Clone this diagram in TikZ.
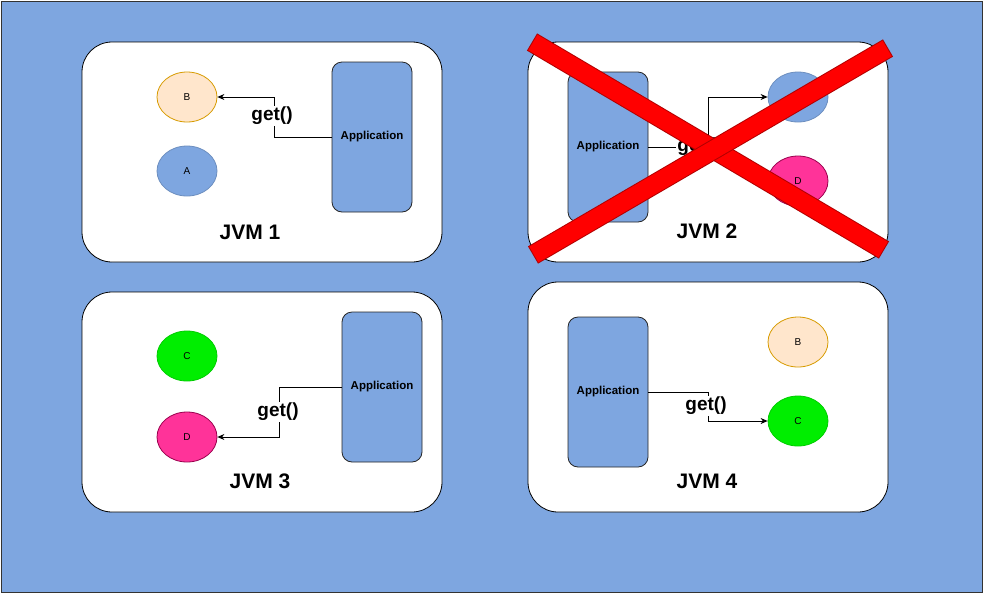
\documentclass[tikz,border=0pt]{standalone}
\usepackage{fontspec}
\setmainfont{Liberation Sans}
\usetikzlibrary{arrows.meta,shapes.geometric}
\definecolor{bgblue}{HTML}{7EA6E0}
\definecolor{blueborder}{HTML}{6C8EBF}
\definecolor{peach}{HTML}{FFE6CC}
\definecolor{peachborder}{HTML}{D79B00}
\definecolor{lgreen}{HTML}{00EE00}
\definecolor{lgreenborder}{HTML}{00CC00}
\definecolor{pink}{HTML}{FF3399}
\definecolor{pinkborder}{HTML}{99004D}
\definecolor{crossred}{HTML}{FF0000}
\definecolor{crossborder}{HTML}{B20000}
\tikzset{
  jvmbox/.style={draw=black, fill=white, rounded corners=30pt, line width=0.8pt},
  appbox/.style={draw=black!85, fill=bgblue, rounded corners=10pt, minimum width=80pt, minimum height=150pt, inner sep=0pt, line width=0.8pt, font=\fontsize{11.5}{13}\selectfont\bfseries},
  obj/.style={ellipse, minimum width=60pt, minimum height=50pt, inner sep=0pt, line width=0.8pt, font=\fontsize{10}{12}\selectfont},
  objB/.style={obj, draw=peachborder, fill=peach},
  objA/.style={obj, draw=blueborder, fill=bgblue},
  objC/.style={obj, draw=lgreenborder, fill=lgreen},
  objD/.style={obj, draw=pinkborder, fill=pink},
  getlbl/.style={fill=white, inner sep=1pt, font=\fontsize{19}{21}\selectfont\bfseries},
  jvmlbl/.style={inner sep=0pt, font=\fontsize{21}{23}\selectfont\bfseries},
  conn/.style={draw=black, line width=0.8pt},
  arr/.style={conn, -{Stealth[length=7pt,width=6pt]}},
}
\begin{document}
\begin{tikzpicture}[x=1pt,y=-1pt]
\useasboundingbox (0,0) rectangle (985,595);
\fill[bgblue] (1,1) rectangle (982,592);
\draw[black!80, line width=0.8pt] (1,1) rectangle (982,592);

% JVM 1
\draw[jvmbox] (82,42) rectangle (442,262);
\node[appbox] (app1) at (372,137) {Application};
\node[objB] (b1) at (187,97) {B};
\node[objA] (a1) at (187,171) {A};
\coordinate (k1) at (274,137);
\draw[arr] (app1.west) -- (k1) |- (b1.east);
\node[getlbl] (g1) at (272,116) {get()};
\node[jvmlbl] (j1) at (250,232) {JVM 1};

% JVM 2
\draw[jvmbox] (528,42) rectangle (888,262);
\node[appbox] (app2) at (608,147) {Application};
\node[objA] (a2) at (798,97) {A};
\node[objD] (d2) at (798,181) {D};
\coordinate (k2) at (708,147);
\draw[arr] (app2.east) -- (k2) |- (a2.west);
\node[getlbl] (g2) at (698,147) {get()};
\node[jvmlbl] (j2) at (707,231) {JVM 2};

% JVM 3
\draw[jvmbox] (82,292) rectangle (442,512);
\node[appbox] (app3) at (382,387) {Application};
\node[objC] (c3) at (187,356) {C};
\node[objD] (d3) at (187,437) {D};
\coordinate (k3) at (279,387);
\draw[arr] (app3.west) -- (k3) |- (d3.east);
\node[getlbl] (g3) at (278,412) {get()};
\node[jvmlbl] (j3) at (260,481) {JVM 3};

% JVM 4
\draw[jvmbox] (528,282) rectangle (888,512);
\node[appbox] (app4) at (608,392) {Application};
\node[objB] (b4) at (798,342) {B};
\node[objC] (c4) at (798,421) {C};
\coordinate (k4) at (708,392);
\draw[arr] (app4.east) -- (k4) |- (c4.west);
\node[getlbl] (g4) at (706,406) {get()};
\node[jvmlbl] (j4) at (707,481) {JVM 4};

% red cross over JVM 2
\draw[crossborder, line width=20pt] (532,42) -- (884,250);
\draw[crossred, line width=18pt, shorten <=1pt, shorten >=1pt] (532,42) -- (884,250);
\draw[crossborder, line width=20pt] (888,48) -- (533,255);
\draw[crossred, line width=18pt, shorten <=1pt, shorten >=1pt] (888,48) -- (533,255);
\end{tikzpicture}
\end{document}
